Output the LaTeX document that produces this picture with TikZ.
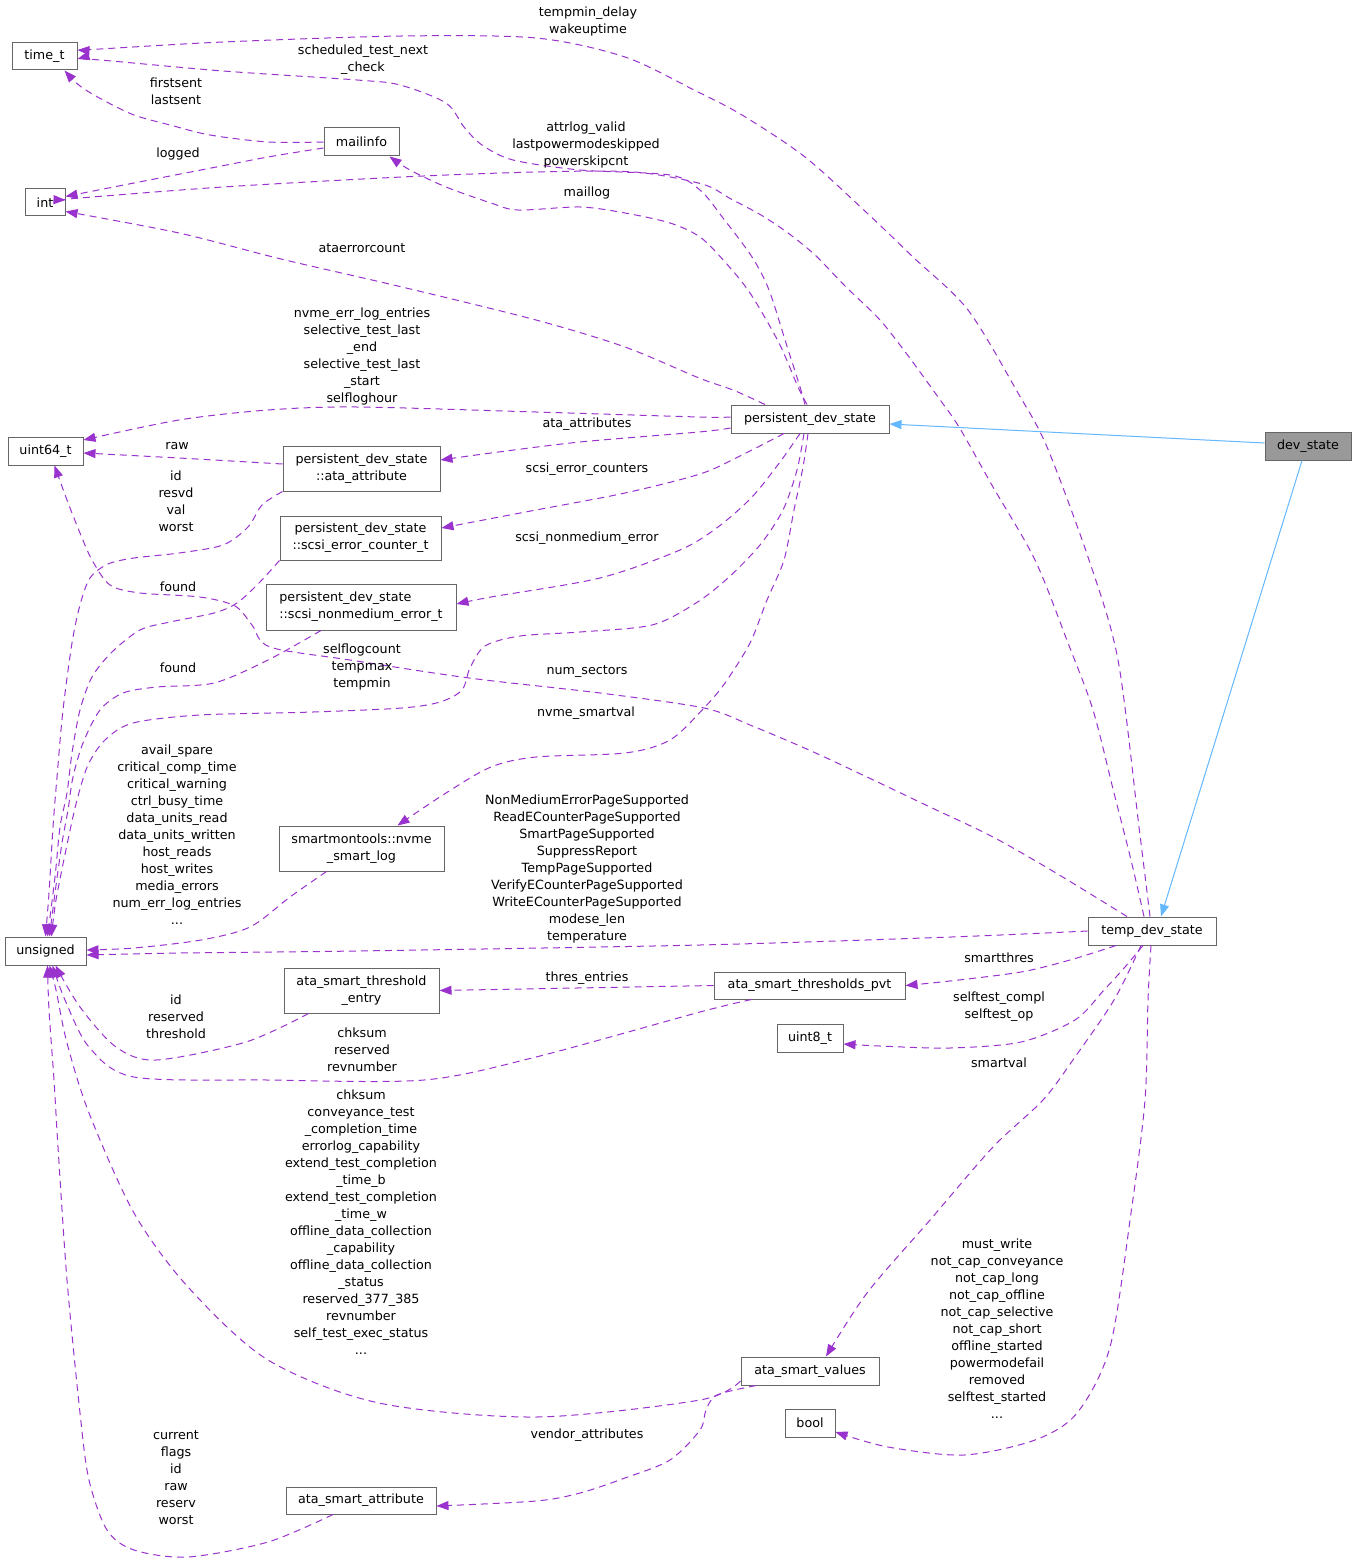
\documentclass[tikz,border=0pt]{standalone}
\usepackage{fontspec}
\setmainfont{DejaVu Sans}
\usetikzlibrary{arrows.meta}
\definecolor{boxgray}{HTML}{666666}
\definecolor{dsfill}{HTML}{999999}
\definecolor{edgepurple}{HTML}{9A32CD}
\definecolor{inhblue}{HTML}{63B8FF}
\newcommand\lblfont{\fontsize{12.7pt}{17pt}\selectfont}
\newcommand\trsp[1]{\hspace*{#1pt}}
\begin{document}
\begin{tikzpicture}[x=1pt,y=-1pt,
  cls/.style={draw=boxgray, fill=white, line width=1pt, inner sep=0pt, font=\lblfont, align=center},
  dep/.style={draw=edgepurple, line width=1pt, dash pattern=on 7pt off 5pt, -{Triangle[length=12pt,width=9pt]}},
  inh/.style={draw=inhblue, line width=1pt, -{Triangle[length=12pt,width=9pt]}},
  lbl/.style={font=\lblfont, align=center, inner sep=0pt}
]
\useasboundingbox (0,0) rectangle (1356,1562);
\fill[white] (0,0) rectangle (1356,1562);

% nodes
\node[cls, minimum width=65pt, minimum height=27pt] (tt) at (44.5,56.5) {time\_t};
\node[cls, minimum width=40pt, minimum height=27pt] (int) at (45,202.5) {int};
\node[cls, minimum width=75pt, minimum height=28pt] (mi) at (361.5,142) {mailinfo};
\node[cls, minimum width=75pt, minimum height=28pt] (u64) at (45.5,451) {uint64\_t};
\node[cls, minimum width=157pt, minimum height=45pt] (aa) at (361.5,468.5) {persistent\_dev\_state\\::ata\_attribute};
\node[cls, minimum width=161pt, minimum height=44pt] (sec) at (360.5,538) {persistent\_dev\_state\\::scsi\_error\_counter\_t};
\node[cls, align=left, minimum width=190pt, minimum height=46pt] (snm) at (361,607) {persistent\_dev\_state\\::scsi\_nonmedium\_error\_t};
\node[cls, minimum width=165pt, minimum height=45pt] (nsl) at (361.5,848.5) {smartmontools::nvme\\\_smart\_log};
\node[cls, minimum width=81pt, minimum height=28pt] (uns) at (45.5,951) {unsigned};
\node[cls, minimum width=155pt, minimum height=45pt] (ate) at (361.5,990.5) {ata\_smart\_threshold\\\_entry};
\node[cls, minimum width=150pt, minimum height=27pt] (asa) at (361,1500.5) {ata\_smart\_attribute};
\node[cls, minimum width=158pt, minimum height=28pt] (pds) at (810,419) {persistent\_dev\_state};
\node[cls, fill=dsfill, minimum width=86pt, minimum height=28pt] (ds) at (1308,446) {dev\_state};
\node[cls, minimum width=128pt, minimum height=28pt] (tds) at (1152,931) {temp\_dev\_state};
\node[cls, minimum width=191pt, minimum height=27pt] (atp) at (809.5,985.5) {ata\_smart\_thresholds\_pvt};
\node[cls, minimum width=66pt, minimum height=28pt] (u8) at (810,1038) {uint8\_t};
\node[cls, minimum width=138pt, minimum height=28pt] (asv) at (810,1371) {ata\_smart\_values};
\node[cls, minimum width=50pt, minimum height=28pt] (bool) at (810,1423) {bool};

% inheritance
\draw[inh] ([yshift=3pt]ds.west) -- ([yshift=-5pt]pds.east);
\draw[inh] ([xshift=-6pt]ds.south) -- ([xshift=9pt]tds.north);

% temp_dev_state edges
\draw[dep] plot[smooth] coordinates {([xshift=-2pt]tds.north) (1139,827) (1118,660) (1089,560) (1047,447) (1018,393) (968,310) (913,257) (867,213) (805,157) (742,115) (694,90) (625,57) (536,38) (402,36) (223,42) (100,49) ([yshift=6.5pt]tt.east)};
\draw[dep] plot[smooth] coordinates {([xshift=-8pt]tds.north) (1131,860) (1114,793) (1093,710) (1068,643) (1035,560) (993,487) (959,427) (938,397) (909,357) (880,320) (846,287) (815,255) (788,233) (761,215) (731,199) (702,184) (634,172) (536,172) (402,177) (223,187) (80,198) ([yshift=2.5pt]int.east)};
\draw[dep] plot[smooth] coordinates {([xshift=-25pt]tds.north) (1056,873) (993,837) (930,807) (867,777) (809,750) (750,725) (704,708) (600,693) (469,678) (350,660) (270,647) (252,625) (235,606) (200,597) (140,593) (110,585) (92,560) (80,533) (67,500) ([xshift=9pt]u64.south)};
\draw[dep] plot[smooth] coordinates {(tds.west) (951,937) (700,945) (357,951) (179,953) ([yshift=-4pt]uns.east)};
\draw[dep] plot[smooth] coordinates {([xshift=-36pt]tds.south) (1070,960) (1021,972) (950,981) (atp.east)};
\draw[dep] plot[smooth] coordinates {([xshift=-9pt]tds.south) (1125,967) (1104,990) (1075,1020) (1021,1042) (950,1048) (880,1046) ([yshift=-6pt]u8.east)};
\draw[dep] plot[smooth] coordinates {([xshift=-11pt]tds.south) (1114,1000) (1075,1057) (1043,1100) (993,1147) (930,1220) (867,1293) ([xshift=16pt]asv.north)};
\draw[dep] plot[smooth] coordinates {([xshift=-1pt]tds.south) (1148,1000) (1145,1100) (1131,1213) (1110,1347) (1077,1413) (1035,1440) (964,1455) (888,1447) ([yshift=-9pt]bool.east)};

% persistent_dev_state edges
\draw[dep] plot[smooth] coordinates {([xshift=-5pt]pds.north) (800,387) (786,343) (769,290) (752,257) (723,218) (700,190) (670,175) (580,170) (513,160) (482,145) (464,127) (446,103) (400,85) (357,80) (223,71) (100,60) ([yshift=-2.5pt]tt.east)};
\draw[dep] plot[smooth] coordinates {([xshift=-3pt]pds.north) (798,387) (779,343) (750,293) (725,262) (700,237) (670,223) (625,213) (580,207) (518,210) (491,203) (446,187) (410,170) ([xshift=28pt]mi.south)};
\draw[dep] plot[smooth] coordinates {([xshift=-45pt]pds.north) (733,390) (699,378) (625,347) (536,320) (402,287) (281,259) (179,233) ([yshift=-9pt]int.east)};
\draw[dep] plot[smooth] coordinates {([yshift=2pt]pds.west) (699,417) (536,412) (357,407) (268,410) (179,420) ([yshift=11pt]u64.east)};
\draw[dep] plot[smooth] coordinates {([yshift=-9pt]pds.west) (699,432) (580,442) (491,453) ([yshift=8.5pt]aa.east)};
\draw[dep] plot[smooth] coordinates {([xshift=-26pt]pds.south) (740,456) (700,474) (625,493) (536,510) ([yshift=10pt]sec.east)};
\draw[dep] plot[smooth] coordinates {([xshift=-10pt]pds.south) (780,462) (752,497) (718,527) (680,550) (600,578) (491,597) ([yshift=3pt]snm.east)};
\draw[dep] plot[smooth] coordinates {([xshift=-6pt]pds.south) (797,470) (783,510) (760,545) (728,578) (696,603) (652,625) (580,632) (520,636) (485,646) (470,668) (462,690) (440,702) (402,708) (313,712) (200,715) (133,723) (105,740) (88,765) (77,800) (68,840) (56,900) ([xshift=6pt]uns.north)};
\draw[dep] plot[smooth] coordinates {([xshift=-2pt]pds.south) (803,467) (794,510) (784,560) (767,600) (750,643) (725,683) (704,708) (670,740) (625,753) (536,757) (491,767) (446,793) ([xshift=36pt]nsl.north)};

% mailinfo edges
\draw[dep] plot[smooth] coordinates {(mi.west) (268,142) (210,135) (170,125) (134,115) (103,100) (80,86) ([xshift=20pt]tt.south)};
\draw[dep] plot[smooth] coordinates {([yshift=-6pt]mi.west) (268,157) (201,170) (134,183) ([yshift=6pt]int.east)};

% nested struct edges
\draw[dep] plot[smooth] coordinates {([yshift=4.5pt]aa.west) (179,458) ([yshift=-2pt]u64.east)};
\draw[dep] plot[smooth] coordinates {(aa.south west) (262,505) (248,527) (223,545) (179,553) (134,558) (108,564) (90,578) (80,605) (72,643) (63,710) (57,777) (53,827) (49,893) (uns.north)};
\draw[dep] plot[smooth] coordinates {(sec.south west) (259,583) (237,603) (214,613) (170,622) (140,630) (112,652) (92,677) (80,710) (72,753) (67,793) (60,827) (55,877) ([xshift=2pt]uns.north)};
\draw[dep] plot[smooth] coordinates {([xshift=-40pt]snm.south) (268,660) (214,683) (157,687) (123,693) (100,710) (83,743) (73,777) (68,810) (62,843) (55,893) ([xshift=4pt]uns.north)};
\draw[dep] plot[smooth] coordinates {([xshift=-35pt]nsl.south) (290,897) (250,927) (201,940) (134,948) ([yshift=1pt]uns.east)};
\draw[dep] (atp.west) -- (ate.east);
\draw[dep] plot[smooth] coordinates {([xshift=-58pt]atp.south) (700,1012) (536,1057) (424,1080) (268,1080) (134,1077) (89,1047) (65,1000) ([xshift=7pt]uns.south)};
\draw[dep] plot[smooth] coordinates {([xshift=-53pt]ate.south) (246,1042) (156,1060) (116,1047) (80,1007) ([xshift=10pt]uns.south)};
\draw[dep] plot[smooth] coordinates {([yshift=-10pt]asv.west) (700,1400) (536,1417) (379,1403) (268,1360) (188,1287) (134,1213) (89,1113) (67,1043) (56,990) ([xshift=4pt]uns.south)};
\draw[dep] plot[smooth] coordinates {([xshift=-54pt]asv.south) (717,1395) (706,1410) (700,1430) (670,1460) (625,1478) (580,1493) (536,1501) ([yshift=-5.5pt]asa.east)};
\draw[dep] plot[smooth] coordinates {([xshift=-28pt]asa.south) (268,1542) (188,1557) (134,1550) (107,1530) (89,1480) (80,1413) (67,1280) (58,1147) (54,1080) (49,1010) ([xshift=2pt]uns.south)};

% labels
\node[lbl] (l1) at (588,21.5) {tempmin\_delay\\wakeuptime};
\node[lbl] (l2) at (363,60) {scheduled\_test\_next\\\_check};
\node[lbl] (l3) at (176,91.5) {firstsent\\lastsent};
\node[lbl] (l4) at (178,154) {logged};
\node[lbl] (l5) at (586,145) {attrlog\_valid\\lastpowermodeskipped\\powerskipcnt};
\node[lbl] (l6) at (587,193) {maillog};
\node[lbl] (l7) at (362,248) {ataerrorcount};
\node[lbl] (l8) at (362,356) {nvme\_err\_log\_entries\\selective\_test\_last\trsp{25}\\\_end\\selective\_test\_last\trsp{25}\\\_start\\selfloghour};
\node[lbl] (l9) at (587,424) {ata\_attributes};
\node[lbl] (l10) at (177,446) {raw};
\node[lbl] (l11) at (176,501) {id\\resvd\\val\\worst};
\node[lbl] (l12) at (587,469) {scsi\_error\_counters};
\node[lbl] (l13) at (587,538) {scsi\_nonmedium\_error};
\node[lbl] (l14) at (178,587) {found};
\node[lbl] (l15) at (178,668) {found};
\node[lbl] (l16) at (362,667) {selflogcount\\tempmax\\tempmin};
\node[lbl] (l17) at (587,672) {num\_sectors};
\node[lbl] (l18) at (586,713) {nvme\_smartval};
\node[lbl] (l19) at (177,835) {avail\_spare\\critical\_comp\_time\\critical\_warning\\ctrl\_busy\_time\\data\_units\_read\\data\_units\_written\\host\_reads\\host\_writes\\media\_errors\\num\_err\_log\_entries\\...};
\node[lbl] (l20) at (587,869) {NonMediumErrorPageSupported\\ReadECounterPageSupported\\SmartPageSupported\\SuppressReport\\TempPageSupported\\VerifyECounterPageSupported\\WriteECounterPageSupported\\modese\_len\\temperature};
\node[lbl] (l21) at (587,978) {thres\_entries};
\node[lbl] (l22) at (176,1017) {id\\reserved\\threshold};
\node[lbl] (l23) at (362,1050) {chksum\\reserved\\revnumber};
\node[lbl] (l24) at (999,958) {smartthres};
\node[lbl] (l25) at (999,1007) {selftest\_compl\\selftest\_op};
\node[lbl] (l26) at (999,1063) {smartval};
\node[lbl] (l27) at (361,1222.5) {chksum\\conveyance\_test\trsp{47}\\\_completion\_time\\errorlog\_capability\\extend\_test\_completion\\\_time\_b\\extend\_test\_completion\\\_time\_w\\offline\_data\_collection\trsp{10}\\\_capability\\offline\_data\_collection\trsp{10}\\\_status\\reserved\_377\_385\\revnumber\\self\_test\_exec\_status\\...};
\node[lbl] (l28) at (997,1329) {must\_write\\not\_cap\_conveyance\\not\_cap\_long\\not\_cap\_offline\\not\_cap\_selective\\not\_cap\_short\\offline\_started\\powermodefail\\removed\\selftest\_started\\...};
\node[lbl] (l29) at (176,1477.5) {current\\flags\\id\\raw\\reserv\\worst};
\node[lbl] (l30) at (587,1435) {vendor\_attributes};
\end{tikzpicture}
\end{document}
